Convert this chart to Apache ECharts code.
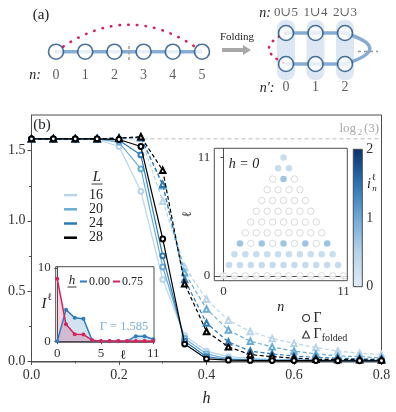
<!DOCTYPE html>
<html>
<head>
<meta charset="utf-8">
<script src="https://cdn.jsdelivr.net/npm/echarts@6/dist/echarts.min.js"></script>
<style>
  html, body { margin: 0; padding: 0; background: #fff; }
  #chart { width: 396px; height: 412px; }
</style>
</head>
<body>
<div id="chart"></div>
<script>
// ---- main panel (b): h sweep ----
const hVals = [0, 0.05, 0.1, 0.15, 0.2, 0.25, 0.3, 0.35, 0.4, 0.45, 0.5, 0.55, 0.6, 0.65, 0.7, 0.75, 0.8];
const sizes = ['16', '20', '24', '28'];
const gamma16 = [1.585, 1.585, 1.585, 1.58, 1.53, 1.21, 0.58, 0.18, 0.07, 0.03, 0.02, 0.01, 0.008, 0.006, 0.005, 0.005, 0.004];
const gamma20 = [1.585, 1.585, 1.585, 1.585, 1.56, 1.37, 0.67, 0.16, 0.05, 0.015, 0.01, 0.006, 0.005, 0.004, 0.003, 0.003, 0.003];
const gamma24 = [1.585, 1.585, 1.585, 1.585, 1.575, 1.47, 0.75, 0.14, 0.03, 0.01, 0.006, 0.004, 0.003, 0.003, 0.002, 0.002, 0.002];
const gamma28 = [1.585, 1.585, 1.585, 1.585, 1.58, 1.53, 0.87, 0.12, 0.015, 0.005, 0.003, 0.002, 0.002, 0.002, 0.001, 0.001, 0.001];
const folded16 = [1.585, 1.585, 1.585, 1.585, 1.59, 1.59, 1.14, 0.67, 0.44, 0.29, 0.21, 0.16, 0.125, 0.095, 0.07, 0.055, 0.045];
const folded20 = [1.585, 1.585, 1.585, 1.585, 1.59, 1.595, 1.25, 0.63, 0.37, 0.22, 0.14, 0.10, 0.07, 0.05, 0.035, 0.03, 0.022];
const folded24 = [1.585, 1.585, 1.585, 1.585, 1.59, 1.595, 1.26, 0.58, 0.27, 0.135, 0.07, 0.05, 0.035, 0.025, 0.02, 0.015, 0.012];
const folded28 = [1.585, 1.585, 1.585, 1.585, 1.59, 1.6, 1.36, 0.55, 0.21, 0.10, 0.045, 0.03, 0.02, 0.012, 0.01, 0.008, 0.006];
const yTicks = [0, 0.5, 1, 1.5];
const yMinor = [0.25, 0.75, 1.25];

// ---- left inset: I^l vs l ----
const ellVals = [0, 1, 2, 3, 4, 5, 6, 7, 8, 9, 10, 11];
const insetH000 = [0, 4.3, 3.2, 3.07, 0.1, 0, 0, 0, 0, 0.68, 0.68, 0.27];
const insetH075 = [8.5, 2.3, 0.95, 0.9, 0.13, 0.02, 0.02, 0.02, 0.02, 0.03, 0.03, 0.03];

// ---- right inset: i_n^l at h = 0 (row l has 12 - l sites) ----
const heatRows = [
  [0, 0, 0, 0, 0, 0, 0, 0, 0, 0, 0, 0],
  [0.5, 0.5, 0.5, 0.5, 0.5, 0.5, 0.5, 0.5, 0.5, 0.5, 0.5],
  [0.48, 0.48, 0.48, 0.48, 0.48, 0.48, 0.48, 0.48, 0.48, 0.48],
  [0.85, 0, 0.85, 0, 0.85, 0, 0.85, 0, 0.85],
  [0, 0, 0, 0, 0, 0, 0, 0],
  [0, 0, 0, 0, 0, 0, 0],
  [0, 0, 0, 0, 0, 0],
  [0, 0, 0, 0, 0],
  [0, 0, 0, 0],
  [0, 0.85, 0],
  [0.48, 0.48],
  [0.48]
];

// ---- panel (a) schematic ----
const chainSites = [0, 1, 2, 3, 4, 5];
const foldedSites = [0, 1, 2];
const foldedTop = ['0\u222a5', '1\u222a4', '2\u222a3'];
const foldedBottom = ['0', '1', '2'];

const serif = 'Liberation Serif, DejaVu Serif, serif';
const axisGray = '#4d4d4d';
const lColors = ['#b9d4eb', '#6aaed6', '#2b7bba', '#000000'];
const blueLine = '#2f7bbf';
const redLine = '#d6245a';
const bondColor = '#86acd3';
const nodeEdge = '#1b4f86';
const cmapStops = ['#e0ebf6', '#b8d3ea', '#6fa9d6', '#2c72b4', '#08306b'];

const chart = echarts.init(document.getElementById('chart'));

const gammaSets = [gamma16, gamma20, gamma24, gamma28];
const foldedSets = [folded16, folded20, folded24, folded28];

function tickAxis(extra) {
  return Object.assign({
    type: 'value',
    splitLine: { show: false },
    axisLine: { show: true, lineStyle: { color: axisGray, width: 1 } },
    axisTick: { show: true, length: 3.5, lineStyle: { color: axisGray } },
    axisLabel: { color: '#333', fontFamily: serif, fontSize: 12 }
  }, extra);
}

const series = [];

// log2(3) reference
series.push({
  type: 'line', xAxisIndex: 0, yAxisIndex: 0, silent: true, symbol: 'none',
  data: [[0, Math.log2(3)], [0.8, Math.log2(3)]],
  lineStyle: { color: '#bdbdbd', width: 1, type: [4, 3] }, z: 1
});

sizes.forEach((L, i) => {
  series.push({
    name: L + 'f', type: 'line', xAxisIndex: 0, yAxisIndex: 0,
    data: hVals.map((h, j) => [h, foldedSets[i][j]]),
    symbol: 'emptyTriangle', symbolSize: 5.5, showAllSymbol: true,
    lineStyle: { color: lColors[i], width: 1.2, type: [4, 2.5] },
    itemStyle: { color: lColors[i], borderWidth: 1 },
    z: 3 + i
  });
  series.push({
    name: L, type: 'line', xAxisIndex: 0, yAxisIndex: 0,
    data: hVals.map((h, j) => [h, gammaSets[i][j]]),
    symbol: 'emptyCircle', symbolSize: 4.8, showAllSymbol: true,
    lineStyle: { color: lColors[i], width: 1.2 },
    itemStyle: { color: lColors[i], borderWidth: 1 },
    z: 3 + i
  });
});

// dummy series for marker legend
series.push({ name: '\u0393', type: 'scatter', xAxisIndex: 0, yAxisIndex: 0, data: [] });
series.push({ name: '\u0393folded', type: 'scatter', xAxisIndex: 0, yAxisIndex: 0, data: [] });

// left inset
series.push({
  name: '0.00', type: 'line', xAxisIndex: 1, yAxisIndex: 2,
  data: ellVals.map((l, j) => [l, insetH000[j]]),
  symbol: 'circle', symbolSize: 4,
  lineStyle: { color: blueLine, width: 1.5 }, itemStyle: { color: blueLine },
  areaStyle: { color: blueLine, opacity: 0.22 }, z: 10
});
series.push({
  name: '0.75', type: 'line', xAxisIndex: 1, yAxisIndex: 2,
  data: ellVals.map((l, j) => [l, insetH075[j]]),
  symbol: 'circle', symbolSize: 4,
  lineStyle: { color: redLine, width: 1.5 }, itemStyle: { color: redLine },
  areaStyle: { color: redLine, opacity: 0.2 }, z: 10
});

// right inset
const heatFilled = [], heatEmpty = [];
heatRows.forEach((row, l) => row.forEach((v, k) => {
  const pt = [k + l / 2, l, v];
  (v > 0 ? heatFilled : heatEmpty).push(pt);
}));
series.push({
  type: 'scatter', xAxisIndex: 2, yAxisIndex: 3, data: heatEmpty,
  symbolSize: 6.5, itemStyle: { color: '#fff', borderColor: '#c4c4c4', borderWidth: 0.8 }, z: 10
});
const heatIdx = series.length;
series.push({
  type: 'scatter', xAxisIndex: 2, yAxisIndex: 3, data: heatFilled,
  symbolSize: 6.5, z: 10
});

// ---- panel (a) ----
series.push({
  type: 'line', xAxisIndex: 4, yAxisIndex: 5, symbol: 'none', silent: true,
  data: chainSites.map(n => [n, 0]),
  lineStyle: { color: bondColor, width: 3.5 }, z: 2
});
series.push({
  type: 'line', xAxisIndex: 4, yAxisIndex: 5, symbol: 'none', silent: true,
  data: [[2.5, -0.42], [2.5, 0.42]],
  lineStyle: { color: '#999', width: 1.5, type: [3, 2.5] }, z: 6
});
series.push({
  type: 'lines', coordinateSystem: 'cartesian2d', xAxisIndex: 4, yAxisIndex: 5, clip: false, silent: true,
  data: [{ coords: [[0, 0], [5, 0]] }],
  lineStyle: { color: redLine, width: 2.6, type: [0.5, 8.2], cap: 'round', curveness: 0.37, opacity: 1 }, z: 2
});
series.push({
  type: 'scatter', xAxisIndex: 4, yAxisIndex: 5, silent: true,
  data: chainSites.map(n => [n, 0]), symbolSize: 15,
  itemStyle: { color: '#fff', borderColor: nodeEdge, borderWidth: 1.6 },
  label: { show: true, position: 'bottom', distance: 8, formatter: p => String(p.value[0]),
    fontFamily: serif, fontSize: 14, color: '#333' },
  z: 5
});

series.push({
  type: 'custom', xAxisIndex: 5, yAxisIndex: 6, silent: true,
  data: foldedSites.map(n => [n]),
  renderItem: (params, api) => {
    const a = api.coord([api.value(0), -0.42]);
    const b = api.coord([api.value(0), 1.52]);
    return { type: 'rect', shape: { x: a[0] - 9, y: a[1], width: 18, height: b[1] - a[1], r: 8 },
      style: { fill: '#dce7f3' } };
  }, z: 1
});
[0, 1].forEach(row => series.push({
  type: 'line', xAxisIndex: 5, yAxisIndex: 6, symbol: 'none', silent: true,
  data: foldedSites.map(n => [n, row]),
  lineStyle: { color: bondColor, width: 3.5 }, z: 2
}));
series.push({
  type: 'lines', coordinateSystem: 'cartesian2d', xAxisIndex: 5, yAxisIndex: 6, clip: false, silent: true,
  data: [{ coords: [[2, 0], [2, 1]] }],
  lineStyle: { color: bondColor, width: 3.5, curveness: 1.6, opacity: 1 }, z: 2
});
series.push({
  type: 'lines', coordinateSystem: 'cartesian2d', xAxisIndex: 5, yAxisIndex: 6, clip: false, silent: true,
  data: [{ coords: [[0, 0], [0, 1]] }],
  lineStyle: { color: redLine, width: 2.6, type: [0.5, 7], cap: 'round', curveness: -1.1, opacity: 1 }, z: 2
});
series.push({
  type: 'line', xAxisIndex: 5, yAxisIndex: 6, symbol: 'none', silent: true, clip: false,
  data: [[2.44, 0.6], [3.12, 0.6]],
  lineStyle: { color: '#999', width: 1.5, type: [3, 3] }, z: 2
});
series.push({
  type: 'scatter', xAxisIndex: 5, yAxisIndex: 6, silent: true,
  data: foldedSites.map(n => [n, 0]), symbolSize: 15,
  itemStyle: { color: '#fff', borderColor: nodeEdge, borderWidth: 1.6 },
  label: { show: true, position: 'top', distance: 6, formatter: p => foldedTop[p.dataIndex],
    fontFamily: serif, fontSize: 13, color: '#333' },
  z: 5
});
series.push({
  type: 'scatter', xAxisIndex: 5, yAxisIndex: 6, silent: true,
  data: foldedSites.map(n => [n, 1]), symbolSize: 15,
  itemStyle: { color: '#fff', borderColor: nodeEdge, borderWidth: 1.6 },
  label: { show: true, position: 'bottom', distance: 8, formatter: p => foldedBottom[p.dataIndex],
    fontFamily: serif, fontSize: 14, color: '#333' },
  z: 5
});

function txt(x, y, text, extra) {
  return { type: 'text', x: x, y: y, z: 100, silent: true,
    style: Object.assign({ text: text, fontFamily: serif, fontSize: 14, fill: '#222',
      align: 'center', verticalAlign: 'middle' }, extra) };
}
const it = { fontStyle: 'italic' };

const option = {
  animation: false,
  backgroundColor: '#fff',
  grid: [
    { left: 31.5, right: 14.5, top: 115, bottom: 45, show: true, borderColor: axisGray, borderWidth: 1 },
    { left: 55.7, top: 266.7, width: 98.3, height: 75.6, show: true, borderColor: axisGray, borderWidth: 1, backgroundColor: '#fff' },
    { left: 214.3, top: 148.3, width: 133, height: 132.4, show: true, borderColor: axisGray, borderWidth: 1, backgroundColor: '#fff' },
    { left: 353.3, top: 149.3, width: 9, height: 137.4 },
    { left: 56, top: 31.7, width: 146, height: 40 },
    { left: 286, top: 2, width: 94.4, height: 93 }
  ],
  xAxis: [
    tickAxis({ gridIndex: 0, min: 0, max: 0.8, interval: 0.2,
      axisLabel: { formatter: v => v.toFixed(1), fontSize: 14, margin: 6, color: '#333', fontFamily: serif },
      axisTick: { show: true, length: 4, lineStyle: { color: axisGray } },
      minorTick: { show: true, splitNumber: 2, length: 2.5, lineStyle: { color: axisGray } },
      name: 'h', nameLocation: 'middle', nameGap: 29,
      nameTextStyle: { fontFamily: serif, fontSize: 16, fontStyle: 'italic', color: '#222' } }),
    tickAxis({ gridIndex: 1, min: -0.18, max: 11.08,
      axisTick: { show: true, length: 3, customValues: [0, 5, 11], lineStyle: { color: axisGray } },
      axisLabel: { customValues: [0, 5, 11], fontSize: 13, margin: 5, color: '#333', fontFamily: serif } }),
    tickAxis({ gridIndex: 2, min: -0.85, max: 11.35,
      axisTick: { show: true, length: 3, customValues: [0, 11], lineStyle: { color: axisGray } },
      axisLabel: { customValues: [0, 11], fontSize: 13, margin: 4, color: '#333', fontFamily: serif },
      name: 'n', nameLocation: 'middle', nameGap: 20,
      nameTextStyle: { fontFamily: serif, fontSize: 14, fontStyle: 'italic', color: '#222' } }),
    { gridIndex: 3, type: 'value', min: 0, max: 1, show: false },
    { gridIndex: 4, type: 'value', min: 0, max: 5, show: false },
    { gridIndex: 5, type: 'value', min: 0, max: 3.2, show: false }
  ],
  yAxis: [
    tickAxis({ gridIndex: 0, min: -0.008, max: 1.755, position: 'left',
      axisTick: { show: true, length: 4, customValues: yTicks, lineStyle: { color: axisGray } },
      axisLabel: { customValues: yTicks, formatter: v => v.toFixed(1), fontSize: 14, margin: 6, color: '#333', fontFamily: serif } }),
    tickAxis({ gridIndex: 0, min: -0.008, max: 1.755, position: 'left',
      axisLine: { show: false },
      axisTick: { show: true, length: 2.5, customValues: yMinor, lineStyle: { color: axisGray } },
      axisLabel: { show: false } }),
    tickAxis({ gridIndex: 1, min: -0.15, max: 10.15,
      axisTick: { show: true, length: 3, customValues: [0, 10], lineStyle: { color: axisGray } },
      axisLabel: { customValues: [0, 10], fontSize: 13, margin: 5, color: '#333', fontFamily: serif } }),
    tickAxis({ gridIndex: 2, min: -0.45, max: 11.85,
      axisTick: { show: true, length: 3, customValues: [0, 11], lineStyle: { color: axisGray } },
      axisLabel: { customValues: [0, 11], fontSize: 13, margin: 4, color: '#333', fontFamily: serif },
      name: '\u2113', nameLocation: 'middle', nameGap: 13, nameRotate: 90,
      nameTextStyle: { fontFamily: serif, fontSize: 13, color: '#222' } }),
    tickAxis({ gridIndex: 3, min: 0, max: 2, interval: 1, position: 'right',
      axisLine: { show: false },
      axisTick: { show: true, length: 3, lineStyle: { color: axisGray } },
      axisLabel: { fontSize: 14, margin: 4, color: '#333', fontFamily: serif } }),
    { gridIndex: 4, type: 'value', min: -1, max: 1, show: false },
    { gridIndex: 5, type: 'value', min: -1, max: 2, inverse: true, show: false }
  ],
  visualMap: {
    type: 'continuous', show: false, min: 0, max: 2, dimension: 2,
    seriesIndex: [heatIdx], inRange: { color: cmapStops }
  },
  legend: [
    { data: sizes, orient: 'vertical', left: 64, top: 188, padding: 0, itemGap: 0,
      itemWidth: 13, itemHeight: 2.5, icon: 'rect', selectedMode: false,
      textStyle: { fontFamily: serif, fontSize: 14, color: '#222', lineHeight: 14.2, padding: [0, 0, 0, 7] } },
    { data: ['0.00', '0.75'], orient: 'horizontal', left: 80, top: 275.5, padding: 0, itemGap: 3,
      itemWidth: 7, itemHeight: 2, icon: 'rect', selectedMode: false,
      textStyle: { fontFamily: serif, fontSize: 12, color: '#222', padding: [0, 0, 0, -3] } },
    { data: [
        { name: '\u0393', icon: 'circle', itemStyle: { color: '#fff', borderColor: '#000', borderWidth: 1.1 } },
        { name: '\u0393folded', icon: 'triangle', itemStyle: { color: '#fff', borderColor: '#000', borderWidth: 1.1 } }
      ],
      orient: 'vertical', left: 302, top: 311, padding: 0, itemGap: 1,
      itemWidth: 7, itemHeight: 7, selectedMode: false,
      formatter: name => name === '\u0393' ? '{a|\u0393}' : '{a|\u0393}{b|folded}',
      textStyle: { fontFamily: serif, color: '#222', padding: [0, 0, 0, -1],
        rich: { a: { fontFamily: serif, fontSize: 14, lineHeight: 14 },
                b: { fontFamily: serif, fontSize: 10, lineHeight: 14, padding: [7, 0, 0, 0] } } } }
  ],
  graphic: [
    { type: 'rect', z: 50, silent: true, shape: { x: 353.3, y: 149.3, width: 9, height: 137.4 },
      style: { stroke: axisGray, lineWidth: 1,
        fill: new echarts.graphic.LinearGradient(0, 0, 0, 1, cmapStops.slice().reverse().map((c, i, arr) => ({ offset: i / (arr.length - 1), color: c }))) } },
    txt(41, 15, '(a)', { fontSize: 15 }),
    txt(42, 125, '(b)', { fontSize: 15 }),
    txt(35, 75, 'n:', Object.assign({ fontSize: 14 }, it)),
    txt(265, 13, 'n:', Object.assign({ fontSize: 14 }, it)),
    txt(267, 88, 'n\u2032:', Object.assign({ fontSize: 14 }, it)),
    txt(237, 37, 'Folding', { fontSize: 11 }),
    { type: 'polygon', z: 100, silent: true,
      shape: { points: [[222, 48], [243, 48], [243, 45], [251, 50], [243, 55], [243, 52], [222, 52]] },
      style: { fill: '#a8a8a8' } },
    txt(97, 177, 'L', Object.assign({ fontSize: 15 }, it)),
    { type: 'line', z: 100, silent: true, shape: { x1: 91.5, y1: 184, x2: 102.5, y2: 184 }, style: { stroke: '#222', lineWidth: 0.9 } },
    txt(356, 129, 'log', { fontSize: 13, fill: '#a8a8a8', align: 'right' }),
    txt(360, 133, '2', { fontSize: 9, fill: '#a8a8a8' }),
    txt(364, 129, '(3)', { fontSize: 13, fill: '#a8a8a8', align: 'left' }),
    txt(72, 281, 'h', Object.assign({ fontSize: 13 }, it)),
    { type: 'line', z: 100, silent: true, shape: { x1: 67.5, y1: 287, x2: 76.5, y2: 287 }, style: { stroke: '#222', lineWidth: 0.9 } },
    txt(44, 304, 'I', Object.assign({ fontSize: 15 }, it)),
    txt(50, 297, '\u2113', { fontSize: 10 }),
    txt(123, 356, '\u2113', { fontSize: 13 }),
    txt(124, 327, '\u0393 = 1.585', { fontSize: 12.5, fill: '#7eafda' }),
    txt(244, 164, 'h = 0', Object.assign({ fontSize: 14 }, it)),
    txt(369, 184, 'i', Object.assign({ fontSize: 14 }, it)),
    txt(374, 178, '\u2113', { fontSize: 9 }),
    txt(374.5, 189, 'n', Object.assign({ fontSize: 9 }, it))
  ],
  series: series
};

chart.setOption(option);
</script>
</body>
</html>
